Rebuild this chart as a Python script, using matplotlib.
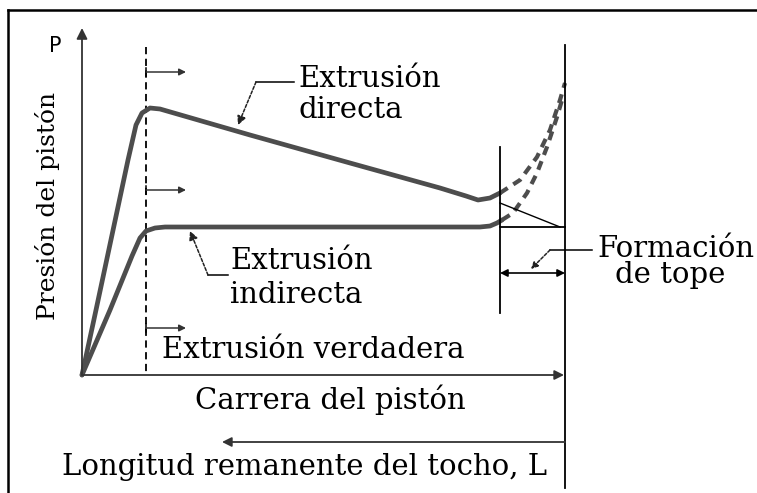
import matplotlib
matplotlib.use("Agg")
import matplotlib.pyplot as plt

# diagram coordinates are in pixels of the 757x493 picture (y grows downwards)
origin = (82, 375)

# direct extrusion curve (solid part, then dashed end rise)
direct_x = [82, 96, 112, 128, 136, 142, 150, 160, 250, 350, 440, 466, 478, 490, 500]
direct_y = [375, 310, 235, 160, 125, 113, 108, 109, 135, 163, 188, 196, 200, 198, 193]
direct_end_x = [500, 520, 537, 550, 560, 565]
direct_end_y = [193, 180, 157, 130, 100, 83]

# indirect extrusion curve
indirect_x = [82, 110, 132, 140, 146, 155, 165, 300, 480, 490, 497, 502]
indirect_y = [375, 310, 256, 238, 231, 228, 227, 227, 227, 226, 223, 220]
indirect_end_x = [502, 513, 527, 537, 547, 557, 562]
indirect_end_y = [220, 213, 193, 173, 147, 117, 100]

# small "region" arrows leaving the dashed line
region_arrow_y = [72, 190, 328]

# text lines: (string, x, baseline y)
labels = [
    ("Extrusión", 298, 87),
    ("directa", 298, 118),
    ("Extrusión", 230, 269),
    ("indirecta", 230, 303),
    ("Extrusión verdadera", 162, 358),
    ("Carrera del pistón", 195, 409),
    ("Longitud remanente del tocho, L", 62, 475),
    ("Formación", 597, 257),
    ("de tope", 615, 283),
]
ylabel = "Presión del pistón"
p_label = "P"

curve_col = "#4d4d4d"
serif = "DejaVu Serif"


def main():
    fig = plt.figure(figsize=(7.57, 4.93), dpi=100)
    ax = fig.add_axes([0, 0, 1, 1])
    ax.set_xlim(0, 757)
    ax.set_ylim(493, 0)
    ax.axis("off")

    # frame (top and left only, like the scan)
    ax.plot([8, 757], [10, 10], color="black", lw=1.8)
    ax.plot([8, 8], [10, 493], color="black", lw=1.8)

    # axes with arrows
    ax.annotate("", xy=(82, 28), xytext=origin,
                arrowprops=dict(arrowstyle="-|>", color="#333333", lw=1.3,
                                mutation_scale=16, shrinkA=0, shrinkB=0))
    ax.annotate("", xy=(564, 375), xytext=origin,
                arrowprops=dict(arrowstyle="-|>", color="#333333", lw=1.3,
                                mutation_scale=14, shrinkA=0, shrinkB=0))

    # dashed boundary of true extrusion
    ax.plot([146, 146], [47, 375], color="black", lw=1.3, ls=(0, (4, 2.5)))
    for y in region_arrow_y:
        ax.plot([146, 146], [y - 4, y + 4], color="black", lw=1.1)
        ax.annotate("", xy=(186, y), xytext=(146, y),
                    arrowprops=dict(arrowstyle="-|>", color="#333333", lw=1.1,
                                    mutation_scale=10, shrinkA=0, shrinkB=0))

    # curves
    ax.plot(direct_x, direct_y, color=curve_col, lw=3.4, solid_capstyle="round",
            solid_joinstyle="round")
    ax.plot(direct_end_x, direct_end_y, color=curve_col, lw=3.0, ls=(0, (2.2, 1.6)))
    ax.plot(indirect_x, indirect_y, color=curve_col, lw=3.4, solid_capstyle="round",
            solid_joinstyle="round")
    ax.plot(indirect_end_x, indirect_end_y, color=curve_col, lw=3.0, ls=(0, (2.2, 1.6)))

    # butt formation construction lines
    ax.plot([500, 500], [147, 313], color="black", lw=1.3)
    ax.plot([565, 565], [45, 488], color="black", lw=1.3)
    ax.plot([500, 560], [203, 227], color="black", lw=1.0)
    ax.plot([500, 565], [227, 227], color="black", lw=1.3)
    ax.annotate("", xy=(500, 273), xytext=(565, 273),
                arrowprops=dict(arrowstyle="<|-|>", color="black", lw=1.2,
                                mutation_scale=11, shrinkA=0, shrinkB=0))

    # leaders
    ax.plot([256, 294], [82, 82], color="black", lw=1.1)
    ax.annotate("", xy=(238, 125), xytext=(256, 82),
                arrowprops=dict(arrowstyle="-|>", color="#222222", lw=1.1,
                                ls=(0, (2, 1.2)), mutation_scale=13,
                                shrinkA=0, shrinkB=0))
    ax.plot([208, 228], [275, 275], color="black", lw=1.1)
    ax.annotate("", xy=(190, 231), xytext=(208, 275),
                arrowprops=dict(arrowstyle="-|>", color="#222222", lw=1.1,
                                ls=(0, (2, 1.2)), mutation_scale=13,
                                shrinkA=0, shrinkB=0))
    ax.plot([550, 592], [250, 250], color="black", lw=1.1)
    ax.annotate("", xy=(531, 269), xytext=(550, 250),
                arrowprops=dict(arrowstyle="-|>", color="#222222", lw=1.1,
                                ls=(0, (2, 1.2)), mutation_scale=10,
                                shrinkA=0, shrinkB=0))

    # remaining billet length arrow
    ax.annotate("", xy=(222, 442), xytext=(565, 442),
                arrowprops=dict(arrowstyle="-|>", color="#333333", lw=1.3,
                                mutation_scale=14, shrinkA=0, shrinkB=0))

    # labels
    ax.text(55, 46, p_label, fontsize=15, family="DejaVu Sans",
            ha="center", va="center")
    ax.text(55, 320, ylabel, fontsize=18, family=serif, rotation=90,
            rotation_mode="anchor", ha="left", va="baseline")
    for s, x, y in labels:
        ax.text(x, y, s, fontsize=21, family=serif, ha="left", va="baseline")

    fig.savefig("out.png", dpi=100)


if __name__ == "__main__":
    main()
